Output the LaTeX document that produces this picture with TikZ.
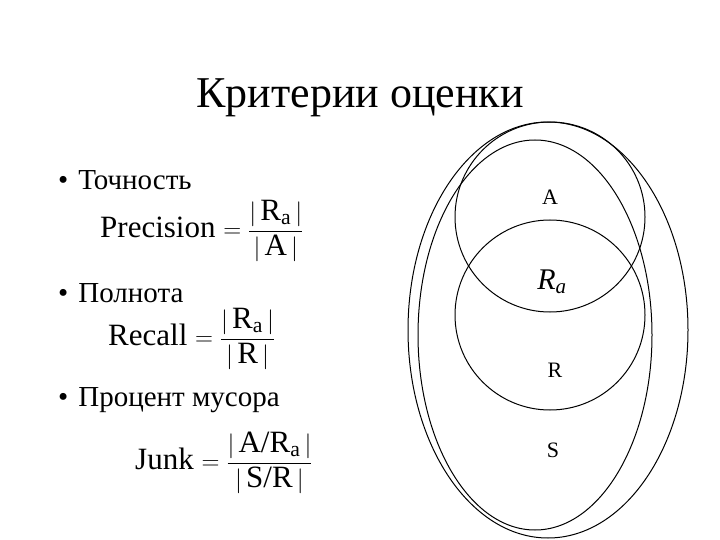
\documentclass[tikz,border=0pt]{standalone}
\usepackage{amsmath}
\usepackage{fontspec}
\setmainfont{Liberation Serif}
\begin{document}
\begin{tikzpicture}[x=1pt,y=-1pt,
  lbl/.style={inner sep=0pt,font=\fontsize{29}{32}\selectfont},
  frm/.style={inner sep=0pt,font=\fontsize{31}{34}\selectfont},
  curve/.style={draw,line width=1pt}]
\useasboundingbox (0,0) rectangle (720,540);
\node[inner sep=0pt,font=\fontsize{44}{48}\selectfont] (title) at (360,98) {Критерии оценки};
\node[lbl,anchor=west] (b1) at (58,180) {•\hspace{10pt}Точность};
\node[lbl,anchor=west] (b2) at (58,293) {•\hspace{10pt}Полнота};
\node[lbl,anchor=west] (b3) at (58,400) {•\hspace{10pt}Процент мусора};
\node[frm,anchor=west] (f1) at (100,231) {Precision $=\dfrac{|\,\text{R}_{\text{a}}\,|}{|\,\text{A}\,|}$};
\node[frm,anchor=west] (f2) at (108,339) {Recall $=\dfrac{|\,\text{R}_{\text{a}}\,|}{|\,\text{R}\,|}$};
\node[frm,anchor=west] (f3) at (135,463) {Junk $=\dfrac{|\,\text{A/R}_{\text{a}}\,|}{|\,\text{S/R}\,|}$};
\draw[curve] (548,330) ellipse [x radius=140,y radius=208];
\draw[curve] (535,335) ellipse [x radius=117,y radius=195];
\draw[curve] (550,217) circle [radius=95];
\draw[curve] (550,315) circle [radius=95];
\node[inner sep=0pt,font=\fontsize{22}{24}\selectfont] (A) at (550,197) {A};
\node[inner sep=0pt,font=\fontsize{30}{32}\selectfont] (Ra) at (552,282) {\textit{R}\textsubscript{\textit{a}}};
\node[inner sep=0pt,font=\fontsize{22}{24}\selectfont] (R) at (555,370) {R};
\node[inner sep=0pt,font=\fontsize{22}{24}\selectfont] (S) at (553,450) {S};
\end{tikzpicture}
\end{document}
